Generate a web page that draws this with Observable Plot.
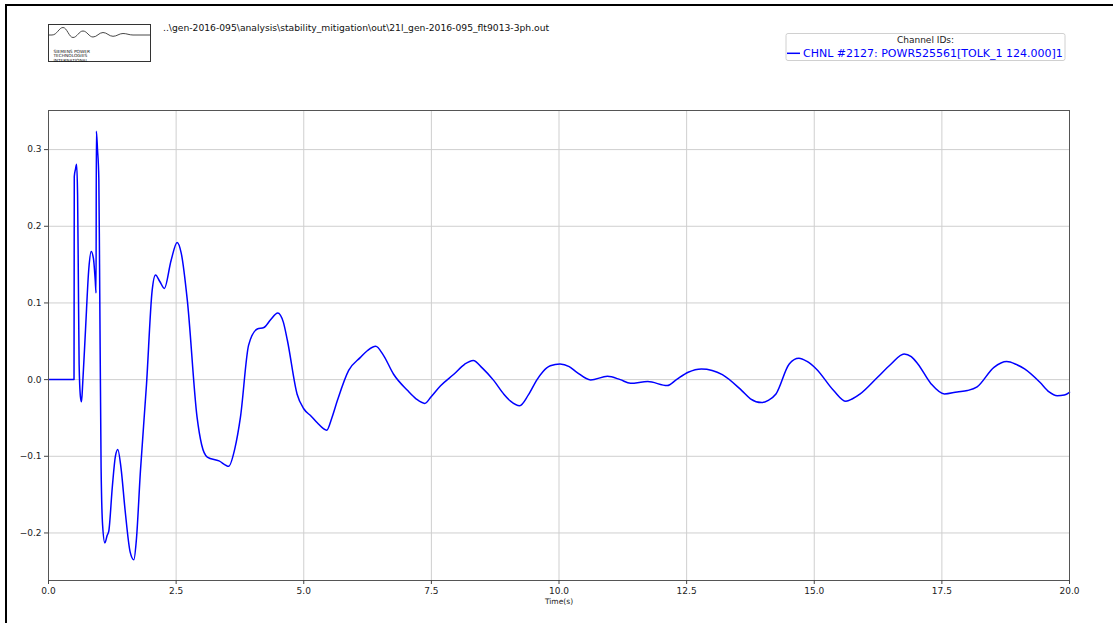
<!DOCTYPE html>
<html>
<head>
<meta charset="utf-8">
<script src="https://cdn.jsdelivr.net/npm/d3@7"></script>
<script src="https://cdn.jsdelivr.net/npm/@observablehq/plot@0.6"></script>
<style>
  html, body { margin: 0; padding: 0; background: #fff; }
  #wrap { position: relative; width: 1113px; height: 623px; overflow: hidden; font-family: "DejaVu Sans", sans-serif; }
  #border { position: absolute; left: 5px; top: 4px; right: -10px; bottom: -10px; border-top: 2px solid #000; border-left: 2px solid #000; }
  #chart { position: absolute; left: 0; top: 0; }
  #header { position: absolute; left: 0; top: 0; }
</style>
</head>
<body>
<div id="wrap">
  <div id="chart"></div>
  <div id="border"></div>
  <svg id="header" width="1113" height="100" font-family="DejaVu Sans, sans-serif">
    <!-- logo -->
    <rect x="48.5" y="24.5" width="102" height="37" fill="none" stroke="#333" stroke-width="1"/>
    <path d="M48.5,35 L52,35 C57,35 59,27.5 63,27.5 C67,27.5 69,37.5 73,37.5 C77,37.5 79,31 83,31 C87,31 89,37 93,37 C97,37 99,32.5 103,32.5 C107,32.5 109,36.3 113,36.3 C117,36.3 119,33.5 123,33.5 C127,33.5 129,35 133,35 L150.5,35" fill="none" stroke="#333" stroke-width="0.9"/>
    <text x="53.5" y="53" font-size="4.3" fill="#111">SIEMENS POWER</text>
    <text x="53.5" y="57.3" font-size="4.3" fill="#111">TECHNOLOGIES</text>
    <text x="53.5" y="61.5" font-size="4.3" fill="#111">INTERNATIONAL</text>
    <!-- file path -->
    <text id="fpath" x="163" y="31" font-size="9.2" fill="#111"></text>
    <!-- legend -->
    <rect x="786" y="33.5" width="279" height="27" rx="2" fill="#fff" fill-opacity="0.8" stroke="#d0d0d0" stroke-width="1"/>
    <text id="legtitle" x="925.5" y="42.5" font-size="9" fill="#222" text-anchor="middle"></text>
    <line x1="787" x2="800" y1="53.3" y2="53.3" stroke="#0000ff" stroke-width="1.5"/>
    <text id="legtext" x="803" y="57.3" font-size="11" fill="#0000ff"></text>
  </svg>
</div>
<script>
// ---- data ----
const filePath = "..\\gen-2016-095\\analysis\\stability_mitigation\\out\\21l_gen-2016-095_flt9013-3ph.out";
const legendTitle = "Channel IDs:";
const channelLabel = "CHNL #2127: POWR525561[TOLK_1 124.000]1";
const xLabel = "Time(s)";
const xTicks = [0, 2.5, 5, 7.5, 10, 12.5, 15, 17.5, 20];
const yTicks = [-0.2, -0.1, 0.0, 0.1, 0.2, 0.3];

const time = [
  0, 0.25, 0.5, 0.505, 0.53, 0.55, 0.57, 0.585, 0.6, 0.625, 0.646, 0.67, 0.725, 0.79, 0.836, 0.88, 0.915, 0.932,
  0.937, 0.96, 0.986, 1.0, 1.03, 1.06, 1.104, 1.15, 1.18, 1.25, 1.31, 1.358, 1.42, 1.5, 1.6, 1.672, 1.72,
  1.8, 1.92, 2.03, 2.096, 2.18, 2.27, 2.4, 2.52, 2.6, 2.72, 2.91, 3.0, 3.11, 3.34, 3.53, 3.65, 3.76, 3.92,
  4.09, 4.22, 4.35, 4.49, 4.6, 4.68, 4.87, 5.0, 5.15, 5.26, 5.45, 5.55, 5.66, 5.88, 6.11, 6.25, 6.41, 6.55,
  6.76, 7.03, 7.2, 7.37, 7.5, 7.68, 7.94, 8.15, 8.32, 8.5, 8.72, 8.92, 9.05, 9.23, 9.4, 9.57, 9.68, 9.83,
  10.02, 10.2, 10.35, 10.62, 10.95, 11.2, 11.4, 11.74, 12.12, 12.3, 12.53, 12.79, 13.0, 13.2, 13.58, 13.75,
  13.97, 14.1, 14.25, 14.51, 14.7, 14.85, 15.04, 15.38, 15.62, 15.75, 15.9, 16.24, 16.5, 16.76, 16.9, 17.03,
  17.29, 17.55, 17.8, 18.0, 18.19, 18.52, 18.77, 18.95, 19.12, 19.42, 19.6, 19.76, 19.9, 20
];
const power = [
  0, 0, 0, 0.265, 0.275, 0.281, 0.24, 0.13, 0.02, -0.022, -0.029, -0.005, 0.065, 0.145, 0.167, 0.158, 0.13, 0.113,
  0.324, 0.30, 0.262, 0.15, -0.114, -0.19, -0.213, -0.203, -0.198, -0.14, -0.10, -0.091, -0.115, -0.17, -0.225, -0.235, -0.21,
  -0.12, -0.006, 0.116, 0.1365, 0.128, 0.119, 0.155, 0.179, 0.165, 0.103, -0.049, -0.085, -0.101, -0.106, -0.113, -0.09, -0.049, 0.045,
  0.066, 0.068, 0.078, 0.087, 0.075, 0.051, -0.019, -0.038, -0.048, -0.056, -0.066, -0.05, -0.027, 0.012, 0.029, 0.038, 0.0434, 0.033,
  0.007, -0.014, -0.025, -0.031, -0.022, -0.008, 0.007, 0.02, 0.025, 0.015, -0.001, -0.019, -0.028, -0.034, -0.02, 0.0, 0.01, 0.018,
  0.0204, 0.017, 0.0096, -0.0004, 0.0043, 0.0, -0.0048, -0.0026, -0.0078, 0.0, 0.0096, 0.0139, 0.012, 0.0065, -0.0143, -0.025,
  -0.030, -0.027, -0.0187, 0.0204, 0.0278, 0.024, 0.0139, -0.0143, -0.0283, -0.025, -0.0187, 0.003, 0.02, 0.0335, 0.030, 0.0204,
  -0.0056, -0.0187, -0.016, -0.0143, -0.0095, 0.016, 0.0235, 0.02, 0.0139, -0.0035, -0.016, -0.0209, -0.02, -0.0165
];

document.getElementById("fpath").textContent = filePath;
document.getElementById("legtitle").textContent = legendTitle;
document.getElementById("legtext").textContent = channelLabel;

const rows = time.map((t, i) => ({t, v: power[i]}));
const fmt = d3.format(".1f");

const chart = Plot.plot({
  width: 1113,
  height: 623,
  marginLeft: 48,
  marginRight: 44,
  marginTop: 110,
  marginBottom: 43,
  style: {fontFamily: "DejaVu Sans, sans-serif", background: "transparent", color: "#222"},
  x: {domain: [0, 20]},
  y: {domain: [-0.262, 0.351]},
  marks: [
    Plot.gridX(xTicks, {stroke: "#cfcfcf", strokeOpacity: 1, strokeWidth: 1}),
    Plot.gridY(yTicks, {stroke: "#cfcfcf", strokeOpacity: 1, strokeWidth: 1}),
    Plot.line(rows, {x: "t", y: "v", stroke: "#0000ff", strokeWidth: 1.5, curve: "monotone-x"}),
    Plot.frame({stroke: "#555", strokeWidth: 1}),
    Plot.axisX(xTicks, {tickFormat: fmt, tickSize: 4, tickPadding: 3, fontSize: 9, label: null, stroke: "#444"}),
    Plot.axisY(yTicks, {tickFormat: fmt, tickSize: 4, tickPadding: 3, fontSize: 9, label: null, stroke: "#444"}),
    Plot.text([xLabel], {frameAnchor: "bottom", dy: 23, fontSize: 7.5, fill: "#222"})
  ]
});
document.getElementById("chart").appendChild(chart);
</script>
</body>
</html>
